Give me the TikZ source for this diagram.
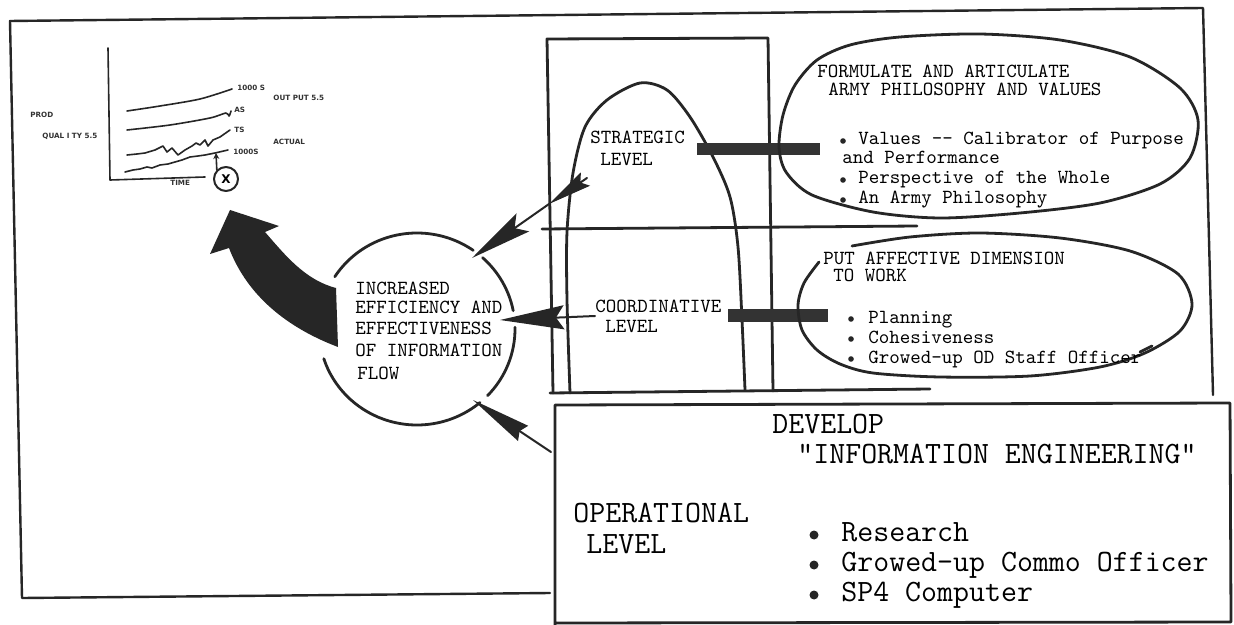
\documentclass[tikz,border=0pt]{standalone}
\usepackage{fontspec}
\newfontfamily\tinysans{DejaVu Sans}
\usetikzlibrary{arrows.meta}
\begin{document}
\begin{tikzpicture}[x=0.5pt,y=-0.5pt,line join=round,line cap=round,
  frame/.style={line width=1.2pt,black!85},
  pen/.style={line width=1.4pt,black!85},
  thin/.style={line width=0.8pt,black!85},
  st/.style={font=\ttfamily\fontsize{10pt}{11pt}\selectfont,anchor=base west,inner sep=0pt,text=black},
  bt/.style={font=\ttfamily\fontsize{15.5pt}{17pt}\selectfont,anchor=base west,inner sep=0pt,text=black},
  gt/.style={font=\tinysans\bfseries\fontsize{3.6pt}{4pt}\selectfont,anchor=west,inner sep=0pt,text=black!80},
  bar/.style={fill=black!80},
  sbul/.style={circle,fill=black!85,inner sep=0pt,minimum size=2.8pt},
  bbul/.style={circle,fill=black!85,inner sep=0pt,minimum size=4.5pt},
  dart/.style={line width=1pt,black!85,-{Stealth[length=31pt,width=11pt,inset=5pt]}},
  fletch/.style={line width=1pt,black!85,-{Stealth[length=22pt,width=8pt,inset=3pt]}}]
\useasboundingbox (0,0) rectangle (1234,625);
\fill[white] (0,0) rectangle (1234,625);

% outer frame
\draw[frame] (550,593) -- (22,598) -- (10,21) -- (1203,8) -- (1213,395);

% graph
\draw[thin] (108,48) -- (110,180) -- (205,177);
\draw[thin] plot[smooth] coordinates {(127,111) (160,106) (200,99) (232,89)};
\draw[thin] plot[smooth] coordinates {(127,130) (170,125) (210,118) (226,113) (229,116) (231,111)};
\draw[thin] plot coordinates {(127,155) (137,154) (145,153) (155,150) (163,146) (167,152) (172,148) (178,155) (185,150) (192,146) (196,143) (200,145) (205,140) (208,146) (213,140) (220,137) (230,130)};
\draw[thin] plot coordinates {(125,172) (133,170) (140,169) (147,167) (152,168) (160,165) (168,164) (175,162) (182,160) (190,157) (198,156) (205,155) (210,154) (215,153) (228,150)};
\node[circle,draw=black!85,line width=1pt,minimum size=12pt,inner sep=0pt,font=\tinysans\bfseries\fontsize{6pt}{6pt}\selectfont] (xc) at (226,179) {X};
\coordinate (xa) at (216,153);
\draw[thin,-{Stealth[length=3pt,width=3pt]}] (xc.north west) -- (xa);
\node[gt] (tm) at (170,183) {TIME};
\node[gt] (l1) at (30,115) {PROD};
\node[gt] (l2) at (42,136) {QUAL I TY 5.5};
\node[gt] (r1) at (237,88) {1000 S};
\node[gt] (r2) at (273,98) {OUT PUT 5.5};
\node[gt] (r3) at (234,110) {AS};
\node[gt] (r4) at (234,130) {TS};
\node[gt] (r5) at (273,142) {ACTUAL};
\node[gt] (r6) at (233,152) {1000S};

% big curved arrow
\fill[black!85] (230,210) -- (279,226) -- (265,232)
  .. controls (285,255) and (305,280) .. (336,288)
  -- (338,347)
  .. controls (280,325) and (245,290) .. (229,248)
  -- (210,254) -- cycle;

% circle
\coordinate (cc) at (417,329);
\draw[pen] (cc) ++(213:98 and 96) arc[start angle=213,end angle=305,x radius=98,y radius=96];
\draw[pen] (cc) ++(312:98 and 96) arc[start angle=312,end angle=349,x radius=98,y radius=96];
\draw[pen] (cc) ++(359:98 and 96) arc[start angle=359,end angle=404,x radius=98,y radius=96];
\draw[pen] (cc) ++(50:98 and 96) arc[start angle=50,end angle=162,x radius=98,y radius=96];
\node[st] (c1) at (355,294) {INCREASED};
\node[st] (c2) at (355,314) {EFFICIENCY AND};
\node[st] (c3) at (355,334) {EFFECTIVENESS};
\node[st] (c4) at (355,356) {OF INFORMATION};
\node[st] (c5) at (357,379) {FLOW};

% levels box and arch
\draw[pen] (553,393) -- (547,39) -- (768,38) -- (773,391);
\draw[pen] (542,229) -- (917,226);
\draw[pen] (550,393) -- (930,389);
\draw[pen] plot[smooth] coordinates {(570,393) (567,300) (567,232) (573,173) (585,127) (607,100) (640,83) (667,90) (690,117) (713,157) (730,197) (738,247) (742,320) (745,390)};

\node[st] (s1) at (590,144) {STRATEGIC};
\node[st] (s2) at (600,166) {LEVEL};
\node[st] (k1) at (595,312) {COORDINATIVE};
\node[st] (k2) at (605,332) {LEVEL};

% bars
\fill[bar] (697,143) rectangle (820,155);
\fill[bar] (728,309) rectangle (828,322);

% strategic ellipse
\draw[pen] plot[smooth cycle] coordinates {(779,147) (783,115) (795,85) (817,60) (850,45) (900,37) (980,34) (1060,40) (1130,57) (1180,88) (1198,120) (1190,158) (1160,184) (1100,203) (1020,213) (940,218) (873,212) (812,195) (786,172)};
\node[st] (f1) at (817,78) {FORMULATE AND ARTICULATE};
\node[st] (f2) at (828,96) {ARMY PHILOSOPHY AND VALUES};
\node[sbul] (fb1) at (843,141) {};
\node[st] (f3) at (858,145) {Values -{}- Calibrator of Purpose};
\node[st] (f4) at (842,164) {and Performance};
\node[sbul] (fb2) at (843,180) {};
\node[st] (f5) at (858,184) {Perspective of the Whole};
\node[sbul] (fb3) at (843,200) {};
\node[st] (f6) at (858,204) {An Army Philosophy};

% coordinative ellipse (open)
\draw[pen] plot[smooth] coordinates {(819,262) (804,283) (798,305) (802,330) (817,350) (840,364) (873,373) (940,377) (1030,376) (1100,367) (1145,353) (1180,331) (1192,304) (1178,274) (1130,251) (1060,238) (980,233) (910,237) (852,246)};
\draw[pen] (1140,352) -- (1152,346);
\node[st] (p1) at (823,264) {PUT AFFECTIVE DIMENSION};
\node[st] (p2) at (833,282) {TO WORK};
\node[sbul] (pb1) at (851,319) {};
\node[st] (p3) at (868,323) {Planning};
\node[sbul] (pb2) at (851,339) {};
\node[st] (p4) at (868,343) {Cohesiveness};
\node[sbul] (pb3) at (851,359) {};
\node[st] (p5) at (868,363) {Growed-up OD Staff Officer};

% operational box
\draw[frame,line width=1.4pt] (555,625) -- (555,405) -- (1230,403) -- (1231,622) -- (555,623);
\node[bt] (o1) at (772,433) {DEVELOP};
\node[bt] (o2) at (797,463) {"INFORMATION ENGINEERING"};
\node[bt] (o3) at (573,522) {OPERATIONAL};
\node[bt] (o4) at (586,553) {LEVEL};
\node[bbul] (ob1) at (814,535) {};
\node[bt] (o5) at (841,541) {Research};
\node[bbul] (ob2) at (814,565) {};
\node[bt] (o6) at (841,571) {Growed-up Commo Officer};
\node[bbul] (ob3) at (814,595) {};
\node[bt] (o7) at (841,601) {SP4 Computer};

% darts into the circle
\coordinate (sA) at (587,178);
\coordinate (sB) at (549,204);
\coordinate (sT) at (472,258);
\draw[fletch] (sA) -- (sB);
\draw[dart] (sB) -- (sT);
\coordinate (kA) at (595,316);
\coordinate (kT) at (500,320);
\draw[dart,-{Stealth[length=32pt,width=12pt,inset=4pt]}] (kA) -- (kT);
\coordinate (oA) at (551,452);
\coordinate (oT) at (473,400);
\draw[dart,-{Stealth[length=30pt,width=9pt,inset=2pt]}] (oA) -- (oT);
\end{tikzpicture}
\end{document}
